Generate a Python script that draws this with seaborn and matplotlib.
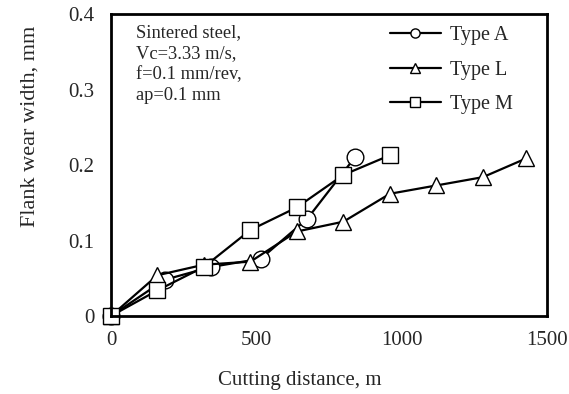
import matplotlib
matplotlib.use("Agg")
import matplotlib.pyplot as plt
import seaborn as sns
import pandas as pd

sns.set_style("white")
plt.rcParams['font.family'] = ['Liberation Serif', 'DejaVu Serif']

a_x = [0, 185, 345, 516, 676, 841]
a_y = [0, 0.048, 0.065, 0.076, 0.129, 0.211]
l_x = [0, 160, 320, 480, 640, 800, 960, 1120, 1280, 1430]
l_y = [0, 0.054, 0.068, 0.072, 0.112, 0.125, 0.162, 0.173, 0.184, 0.209]
m_x = [0, 160, 320, 480, 640, 800, 960]
m_y = [0, 0.034, 0.065, 0.114, 0.144, 0.187, 0.213]
labels = ["Type A", "Type L", "Type M"]
markers = ["o", "^", "s"]

fig = plt.figure(figsize=(5.69, 3.94), dpi=100)
ax = fig.add_axes([0.195, 0.198, 0.766, 0.766])

for (xs, ys), lab, mk in zip([(a_x, a_y), (l_x, l_y), (m_x, m_y)], labels, markers):
    df = pd.DataFrame({"x": xs, "y": ys})
    sns.lineplot(data=df, x="x", y="y", ax=ax, color="black", lw=1.6,
                 marker=mk, markersize=12, markerfacecolor="white",
                 markeredgecolor="black", markeredgewidth=1.0, label=lab,
                 clip_on=False, sort=False)

ax.set_xlim(0, 1500)
ax.set_ylim(0, 0.4)
ax.set_xticks([0, 500, 1000, 1500])
ax.set_xticklabels(["0", "500", "1000", "1500"])
ax.set_yticks([0, 0.1, 0.2, 0.3, 0.4])
ax.set_yticklabels(["0", "0.1", "0.2", "0.3", "0.4"])
ax.tick_params(direction="in", length=6, width=1.2, labelsize=15, color="black")
ax.tick_params(axis="y", pad=12)
ax.tick_params(axis="x", pad=11)
for s in ax.spines.values():
    s.set_linewidth(2)
    s.set_color("black")
ax.set_xlabel("Cutting distance, m", fontsize=15)
ax.set_ylabel("Flank wear width, mm", fontsize=16)
ax.xaxis.set_label_coords(0.434, -0.182)
ax.yaxis.set_label_coords(-0.163, 0.629)

ax.text(0.058, 0.968, "Sintered steel,\nVc=3.33 m/s,\nf=0.1 mm/rev,\nap=0.1 mm",
        transform=ax.transAxes, fontsize=13.3, va="top", ha="left", linespacing=1.3)

leg = ax.legend(loc="upper right", frameon=False, fontsize=14.5, markerscale=0.55,
                handlelength=2.5, borderaxespad=0.2, labelspacing=0.75, handletextpad=0.45,
                bbox_to_anchor=(0.949, 1.0))

fig.savefig("out.png", dpi=100)
